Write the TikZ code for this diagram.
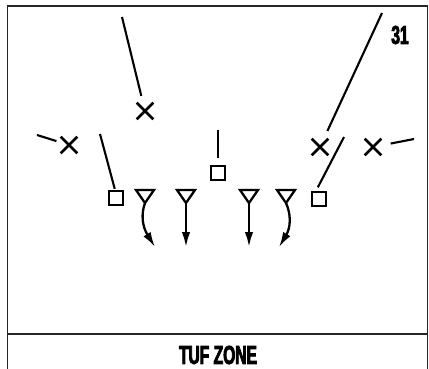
\documentclass[tikz,border=0pt]{standalone}
\usepackage{fontspec}
\newfontfamily\heavyfont[FakeStretch=0.6,FakeBold=3,BoldFont=*,BoldFeatures={FakeBold=3}]{Liberation Sans Bold}
\usetikzlibrary{shapes.misc,arrows.meta}
\begin{document}
\begin{tikzpicture}[x=1pt,y=-1pt,
  frame/.style={line width=1.6pt,black!85},
  defx/.style={cross out,draw,line width=2.6pt,minimum size=14pt,inner sep=0pt},
  blocker/.style={rectangle,draw,line width=2.3pt,minimum size=14pt,inner sep=0pt},
  tri/.style={line width=2.3pt,line join=miter},
  route/.style={line width=2.1pt},
  runarrow/.style={line width=2.3pt,-{Latex[length=15pt,width=8.5pt]}},
  label/.style={font=\heavyfont\fontsize{26}{26}\selectfont,inner sep=0pt}]
\useasboundingbox (0,0) rectangle (429,369);
\fill[white] (0,0) rectangle (429,369);
% frame
\draw[frame] (427.5,369) -- (427.5,6) -- (7.5,6) -- (7.5,369);
\draw[frame] (7.5,334) -- (427.5,334);
% labels
\node[label] (num) at (400,35) {31};
\node[label] (title) at (218,355) {TUF ZONE};
% defenders
\node[defx] (x1) at (145,111) {};
\node[defx] (x2) at (69,145) {};
\node[defx] (x3) at (320,147) {};
\node[defx] (x4) at (373,147) {};
\coordinate (a1) at (122,17);
\coordinate (a2) at (37,135);
\coordinate (a3) at (382,13);
\coordinate (a4) at (414,139);
\draw[route,shorten >=7pt] (a1) -- (x1);
\draw[route,shorten >=4.5pt] (a2) -- (x2);
\draw[route,shorten >=8.5pt] (a3) -- (x3);
\draw[route,shorten >=9.5pt] (a4) -- (x4);
% blockers (squares)
\node[blocker] (s1) at (116,198) {};
\node[blocker] (s2) at (218,173) {};
\node[blocker] (s3) at (319,199) {};
\coordinate (b1) at (100,134);
\coordinate (b2) at (218,130);
\coordinate (b3) at (344,137);
\draw[route,shorten >=1pt] (b1) -- ([xshift=-1pt]s1.north);
\draw[route,shorten >=6.5pt] (b2) -- (s2.north);
\draw[route,shorten >=4pt] (b3) -- ([xshift=-3pt]s3.north);
% triangles (apex named)
\coordinate (t1) at (145,203);
\coordinate (t2) at (186,203);
\coordinate (t3) at (249,203);
\coordinate (t4) at (286,203);
\foreach \t in {t1,t2,t3,t4}
  \draw[tri] (\t) -- ++(-9,-13) -- ++(18,0) -- cycle;
\coordinate (e1) at (155,247);
\coordinate (e2) at (186,247);
\coordinate (e3) at (249,247);
\coordinate (e4) at (279,247);
\draw[runarrow] (t1) .. controls (141,214) and (142,226) .. (e1);
\draw[runarrow] (t2) -- (e2);
\draw[runarrow] (t3) -- (e3);
\draw[runarrow] (t4) .. controls (291,214) and (291,227) .. (e4);
\end{tikzpicture}
\end{document}
